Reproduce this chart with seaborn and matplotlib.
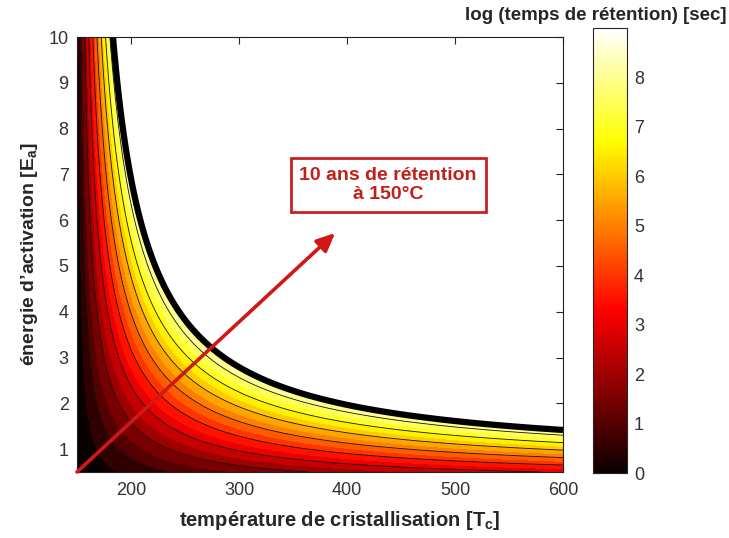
import numpy as np
import matplotlib
matplotlib.use("Agg")
import matplotlib.pyplot as plt
import seaborn as sns

# axes ranges (Tc in degC, Ea in eV)
tc_range = [150, 600]
ea_range = [0.5, 10]
tc_ticks = [200, 300, 400, 500, 600]
ea_ticks = [1, 2, 3, 4, 5, 6, 7, 8, 9, 10]
cbar_ticks = [0, 1, 2, 3, 4, 5, 6, 7, 8]
cbar_max = 9.0

# retention model: log10(t) = Ea/(k ln10) * (1/T_op - 1/Tc)
k_boltz = 8.617e-5      # eV/K
t_operation = 150.0     # degC
line_levels = [1, 2, 3, 4, 5, 6, 7, 8]
fill_top = 8.7          # above this the map is left blank

arrow_start = (150, 0.5)
arrow_end = (389, 5.72)
note_pos = (438, 6.77)
note_text = "10 ans de rétention\nà 150°C"

sns.set_style("ticks")
plt.rcParams['font.family'] = ['Liberation Sans', 'DejaVu Sans']
plt.rcParams['mathtext.fontset'] = 'custom'
plt.rcParams['mathtext.bf'] = 'Liberation Sans:bold'
plt.rcParams['mathtext.rm'] = 'Liberation Sans:bold'

tc = np.linspace(tc_range[0], tc_range[1], 500)
ea = np.linspace(ea_range[0], ea_range[1], 500)
TC, EA = np.meshgrid(tc, ea)
log_t = EA / (k_boltz * np.log(10)) * (1.0 / (t_operation + 273.15) - 1.0 / (TC + 273.15))

fig = plt.figure(figsize=(7.29, 5.38), dpi=100)
ax = fig.add_axes([0.1056, 0.1227, 0.6667, 0.8085])
cax = fig.add_axes([0.8134, 0.1208, 0.0466, 0.827])

cmap = plt.get_cmap("hot")
norm = matplotlib.colors.Normalize(vmin=0, vmax=cbar_max)
fill_levels = np.append(np.arange(0, fill_top, 0.5), fill_top)
# each band takes the colour of its lower level (matlab contourf style)
band_colors = [cmap(norm(l)) for l in fill_levels[:-1]]
ax.contourf(TC, EA, log_t, levels=fill_levels, colors=band_colors)
ax.contour(TC, EA, log_t, levels=line_levels, colors="#111111", linewidths=0.6)
ax.contour(TC, EA, log_t, levels=[fill_top], colors="black", linewidths=4.5)

ax.set_xlim(tc_range)
ax.set_ylim(ea_range)
ax.set_xticks(tc_ticks)
ax.set_yticks(ea_ticks)
ax.tick_params(direction="in", top=True, right=True, length=5, labelsize=13,
               labelcolor="#333333", width=0.8)
ax.tick_params(axis="x", pad=7)
ax.tick_params(axis="y", pad=6)
for s in ax.spines.values():
    s.set_linewidth(0.8)
    s.set_color("#222222")

ax.set_xlabel(r"température de cristallisation [T$_\mathbf{c}$]", fontsize=14.5,
              fontweight="bold", labelpad=9)
ax.xaxis.set_label_coords(0.54, -0.085)
ax.set_ylabel(r"énergie d’activation [E$_\mathbf{a}$]", fontsize=14,
              fontweight="bold", labelpad=6)

# arrow + note
ax.annotate("", xy=arrow_end, xytext=arrow_start,
            arrowprops=dict(arrowstyle="-|>,head_length=1.1,head_width=0.5",
                            color="#d01818", lw=2.6, shrinkA=0, shrinkB=0),
            annotation_clip=False)
ax.text(note_pos[0], note_pos[1], note_text, ha="center", va="center",
        fontsize=14, fontweight="bold", color="#c0201a", linespacing=1.15,
        bbox=dict(boxstyle="square,pad=0.45", fc="white", ec="#c82020", lw=2))

# colorbar
sm = matplotlib.cm.ScalarMappable(norm=norm, cmap=cmap)
cb = fig.colorbar(sm, cax=cax, ticks=cbar_ticks)
cb.outline.set_linewidth(0.8)
cax.tick_params(direction="in", left=True, right=True, length=5, labelsize=13,
                labelcolor="#333333", pad=5)
fig.text(0.997, 0.972, "log (temps de rétention) [sec]", ha="right", va="center",
         fontsize=13.5, fontweight="bold")

fig.savefig("out.png", dpi=100)
